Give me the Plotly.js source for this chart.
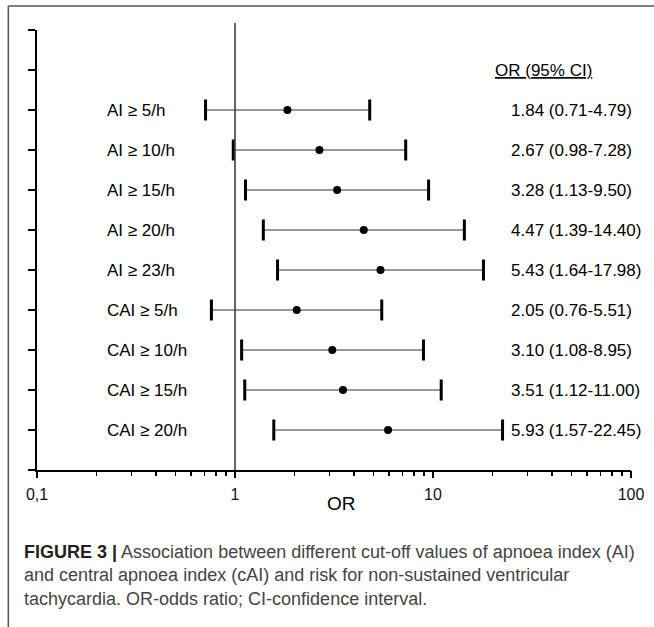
<!DOCTYPE html>
<html>
<head>
<meta charset="utf-8">
<script src="https://cdn.plot.ly/plotly-3.0.1.min.js"></script>
<style>html,body{margin:0;padding:0;background:#fff;}#chart{width:654px;height:627px;}</style>
</head>
<body>
<div id="chart"></div>
<script>
// ---- data ----
var labels = ["AI ≥ 5/h", "AI ≥ 10/h", "AI ≥ 15/h", "AI ≥ 20/h", "AI ≥ 23/h",
              "CAI ≥ 5/h", "CAI ≥ 10/h", "CAI ≥ 15/h", "CAI ≥ 20/h"];
var orVals = [1.84, 2.67, 3.28, 4.47, 5.43, 2.05, 3.10, 3.51, 5.93];
var ciLow  = [0.71, 0.98, 1.13, 1.39, 1.64, 0.76, 1.08, 1.12, 1.57];
var ciHigh = [4.79, 7.28, 9.50, 14.40, 17.98, 5.51, 8.95, 11.00, 22.45];
var xTickVals = [0.1, 1, 10, 100];
var xTickText = ["0,1", "1", "10", "100"];
var headerText = "OR (95% CI)";
var axisTitle = "OR";
var captionBold = "FIGURE 3 |";
var captionLines = [
  "Association between different cut-off values of apnoea index (AI)",
  "and central apnoea index (cAI) and risk for non-sustained ventricular",
  "tachycardia. OR-odds ratio; CI-confidence interval."
];

// ---- derived ----
var n = labels.length;
var rows = labels.map(function (_, i) { return n - i; });   // top row highest
var errPlus = orVals.map(function (v, i) { return ciHigh[i] - v; });
var errMinus = orVals.map(function (v, i) { return v - ciLow[i]; });
var fmt = function (v) { return v.toFixed(2); };
var ciText = orVals.map(function (v, i) { return fmt(v) + " (" + fmt(ciLow[i]) + "-" + fmt(ciHigh[i]) + ")"; });

// all ticks (decades + 2..9 of each decade) on the main axis, labels only on decades
var allTickVals = [], allTickText = [];
[0.1, 1, 10].forEach(function (d, j) {
  for (var k = 1; k <= 9; k++) {
    allTickVals.push(+(d * k).toFixed(3));
    allTickText.push(k === 1 ? xTickText[j] : "");
  }
});
allTickVals.push(xTickVals[3]); allTickText.push(xTickText[3]);

var yTicks = [];
for (var t = 0; t <= n + 2; t++) yTicks.push(t);

var FONT = "Liberation Sans, Arial, Helvetica, sans-serif";

var traces = [
  { // CI whiskers + point estimates
    type: "scatter", mode: "markers",
    x: orVals, y: rows,
    marker: { symbol: "circle", size: 8, color: "#000" },
    error_x: { type: "data", symmetric: false, array: errPlus, arrayminus: errMinus,
               width: 0, thickness: 1, color: "#333" },
    hoverinfo: "x+y", showlegend: false
  },
  { // end caps (on the overlay axis carrying the longer decade ticks; same scale)
    type: "scatter", mode: "markers",
    x: ciLow.concat(ciHigh), y: rows.concat(rows),
    xaxis: "x2", yaxis: "y",
    marker: { symbol: "line-ns", size: 15, color: "#000", line: { width: 3, color: "#000" } },
    hoverinfo: "x", showlegend: false
  }
];

var annotations = [];
labels.forEach(function (lab, i) {
  annotations.push({ xref: "paper", yref: "y", x: 0.114, y: rows[i], xanchor: "left", yanchor: "middle",
    text: lab, showarrow: false, font: { family: FONT, size: 17, color: "#000" } });
  annotations.push({ xref: "paper", yref: "y", x: 0.795, y: rows[i], xanchor: "left", yanchor: "middle",
    text: ciText[i], showarrow: false, font: { family: FONT, size: 17, color: "#000" } });
});
annotations.push({ xref: "paper", yref: "y", x: 0.768, y: n + 1, xanchor: "left", yanchor: "middle",
  text: "<u>" + headerText + "</u>", showarrow: false, font: { family: FONT, size: 17, color: "#000" } });
annotations.push({ xref: "paper", yref: "paper", x: 0.512, y: -0.076, xanchor: "center", yanchor: "middle",
  text: axisTitle, showarrow: false, font: { family: FONT, size: 19, color: "#000" } });
annotations.push({ xref: "paper", yref: "paper", x: -0.026, y: -0.160, xanchor: "left", yanchor: "top",
  align: "left", showarrow: false,
  text: "<b>" + captionBold + "</b> <span style='color:#444'>" + captionLines.join("<br>") + "</span>",
  font: { family: FONT, size: 18, color: "#222" } });

var layout = {
  width: 654, height: 627,
  margin: { l: 37, r: 23, t: 30, b: 157 },
  paper_bgcolor: "#fff", plot_bgcolor: "#fff",
  font: { family: FONT, color: "#111" },
  showlegend: false,
  xaxis: {
    type: "log", range: [-1, 2],
    showline: true, linecolor: "#000", linewidth: 2,
    ticks: "outside", ticklen: 4, tickwidth: 1.5, tickcolor: "#000",
    tickmode: "array", tickvals: allTickVals, ticktext: allTickText,
    tickfont: { family: FONT, size: 16, color: "#111" }, ticklabelstandoff: 5,
    showgrid: false, zeroline: false, fixedrange: true
  },
  xaxis2: {
    type: "log", range: [-1, 2], overlaying: "x", anchor: "y", side: "bottom",
    showline: false, ticks: "outside", ticklen: 7, tickwidth: 1.5, tickcolor: "#000",
    tickmode: "array", tickvals: xTickVals, showticklabels: false,
    showgrid: false, zeroline: false, fixedrange: true
  },
  yaxis: {
    range: [0, n + 2],
    showline: true, linecolor: "#000", linewidth: 2,
    ticks: "outside", ticklen: 7, tickwidth: 1.5, tickcolor: "#000",
    tickmode: "array", tickvals: yTicks, showticklabels: false,
    showgrid: false, zeroline: false, fixedrange: true
  },
  shapes: [
    { type: "line", xref: "x", yref: "paper", x0: 1, x1: 1, y0: 0, y1: 1.016,
      line: { color: "#333", width: 1.5 } },
    { type: "line", xref: "paper", yref: "paper", x0: -0.0483, x1: 1.04, y0: 1.0545, y1: 1.0545,
      line: { color: "#555", width: 1.5 } },
    { type: "line", xref: "paper", yref: "paper", x0: -0.0483, x1: -0.0483, y0: 1.0545, y1: -0.36,
      line: { color: "#555", width: 1.5 } }
  ],
  annotations: annotations
};

Plotly.newPlot("chart", traces, layout, { displayModeBar: false, staticPlot: true });
</script>
</body>
</html>
